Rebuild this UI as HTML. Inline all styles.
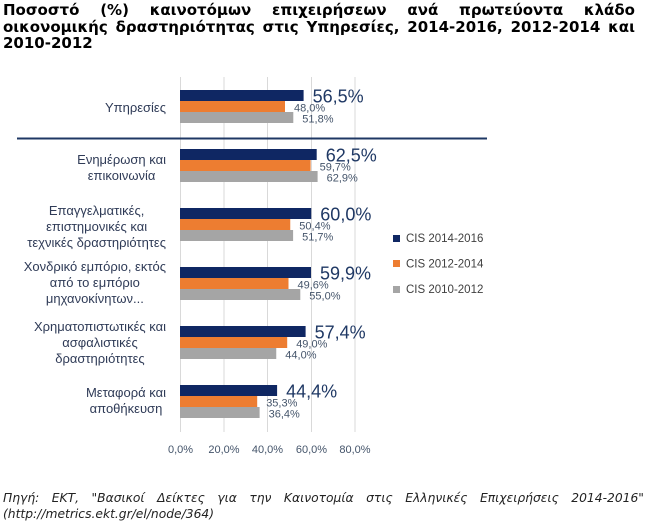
<!DOCTYPE html>
<html><head><meta charset="utf-8">
<style>
html,body{margin:0;padding:0;background:#fff;}
body{width:647px;height:529px;position:relative;overflow:hidden;}
.t{position:absolute;left:3px;width:632px;font-family:"DejaVu Sans","Liberation Sans",sans-serif;font-weight:bold;font-size:15px;color:#000;line-height:17px;white-space:nowrap;}
.j{display:flex;justify-content:space-between;}
.f{position:absolute;left:3px;width:641px;font-family:"DejaVu Sans","Liberation Sans",sans-serif;font-style:italic;font-size:12.3px;color:#222;line-height:15px;white-space:nowrap;}
.lab{position:absolute;right:481px;text-align:center;white-space:nowrap;font-family:"Liberation Sans","DejaVu Sans",sans-serif;font-size:13px;color:#2f3b57;line-height:16px;}
svg{position:absolute;left:0;top:0;}
</style></head><body>
<svg width="647" height="529" viewBox="0 0 647 529" xmlns="http://www.w3.org/2000/svg">
<g stroke="#d9d9d9" stroke-width="1">
<line x1="180.5" y1="77" x2="180.5" y2="432"/>
<line x1="224" y1="77" x2="224" y2="432"/>
<line x1="267.5" y1="77" x2="267.5" y2="432"/>
<line x1="311.5" y1="77" x2="311.5" y2="432"/>
<line x1="355" y1="77" x2="355" y2="432"/>
</g>
<line x1="17" y1="138.5" x2="487" y2="138.5" stroke="#1f3864" stroke-width="2"/>
<g>
<rect x="180" y="90" width="123.6" height="11" fill="#0f2763"/>
<rect x="180" y="101" width="105" height="11" fill="#ed7d31"/>
<rect x="180" y="112" width="113.3" height="11" fill="#a5a5a5"/>

<rect x="180" y="149" width="136.7" height="11" fill="#0f2763"/>
<rect x="180" y="160" width="130.6" height="11" fill="#ed7d31"/>
<rect x="180" y="171" width="137.6" height="11" fill="#a5a5a5"/>

<rect x="180" y="208" width="131.25" height="11" fill="#0f2763"/>
<rect x="180" y="219" width="110.25" height="11" fill="#ed7d31"/>
<rect x="180" y="230" width="113.1" height="11" fill="#a5a5a5"/>

<rect x="180" y="267" width="131" height="11" fill="#0f2763"/>
<rect x="180" y="278" width="108.5" height="11" fill="#ed7d31"/>
<rect x="180" y="289" width="120.3" height="11" fill="#a5a5a5"/>

<rect x="180" y="326" width="125.6" height="11" fill="#0f2763"/>
<rect x="180" y="337" width="107.2" height="11" fill="#ed7d31"/>
<rect x="180" y="348" width="96.25" height="11" fill="#a5a5a5"/>

<rect x="180" y="385" width="97.1" height="11" fill="#0f2763"/>
<rect x="180" y="396" width="77.2" height="11" fill="#ed7d31"/>
<rect x="180" y="407" width="79.6" height="11" fill="#a5a5a5"/>
</g>
<g font-family="Liberation Sans, DejaVu Sans, sans-serif" font-size="18" fill="#1f3864">
<text x="312.6" y="102.5">56,5%</text>
<text x="325.7" y="161.5">62,5%</text>
<text x="320.3" y="220.5">60,0%</text>
<text x="320" y="279.5">59,9%</text>
<text x="314.6" y="338.5">57,4%</text>
<text x="286.1" y="397.5">44,4%</text>
</g>
<g font-family="Liberation Sans, DejaVu Sans, sans-serif" font-size="11" fill="#44546a">
<text x="294" y="111.5">48,0%</text>
<text x="302.3" y="122.3">51,8%</text>
<text x="319.6" y="170.5">59,7%</text>
<text x="326.6" y="181.3">62,9%</text>
<text x="299.3" y="229.5">50,4%</text>
<text x="302.1" y="240.3">51,7%</text>
<text x="297.5" y="288.5">49,6%</text>
<text x="309.3" y="299.3">55,0%</text>
<text x="296.2" y="347.5">49,0%</text>
<text x="285.3" y="358.3">44,0%</text>
<text x="266.2" y="406.5">35,3%</text>
<text x="268.6" y="417.3">36,4%</text>
</g>
<g font-family="Liberation Sans, DejaVu Sans, sans-serif" font-size="11" fill="#44546a" text-anchor="middle">
<text x="180.5" y="453">0,0%</text>
<text x="224" y="453">20,0%</text>
<text x="267.5" y="453">40,0%</text>
<text x="311.5" y="453">60,0%</text>
<text x="355" y="453">80,0%</text>
</g>
<rect x="393" y="235" width="7" height="7" fill="#0f2763"/>
<rect x="393" y="260" width="7" height="7" fill="#ed7d31"/>
<rect x="393" y="286" width="7" height="7" fill="#a5a5a5"/>
<g font-family="Liberation Sans, DejaVu Sans, sans-serif" font-size="11.5" fill="#404040">
<text x="406" y="242">CIS 2014-2016</text>
<text x="406" y="267.5">CIS 2012-2014</text>
<text x="406" y="293">CIS 2010-2012</text>
</g>
</svg>

<div class="t j" style="top:2px;"><span>Ποσοστό</span><span>(%)</span><span>καινοτόμων</span><span>επιχειρήσεων</span><span>ανά</span><span>πρωτεύοντα</span><span>κλάδο</span></div>
<div class="t j" style="top:18.5px;"><span>οικονομικής</span><span>δραστηριότητας</span><span>στις</span><span>Υπηρεσίες,</span><span>2014-2016,</span><span>2012-2014</span><span>και</span></div>
<div class="t" style="top:35px;">2010-2012</div>

<div class="lab" style="top:100px;">Υπηρεσίες</div>
<div class="lab" style="top:152px;">Ενημέρωση και<br>επικοινωνία</div>
<div class="lab" style="top:202.5px;">Επαγγελματικές,<br>επιστημονικές και<br>τεχνικές δραστηριότητες</div>
<div class="lab" style="top:258.5px;">Χονδρικό εμπόριο, εκτός<br>από το εμπόριο<br>μηχανοκίνητων...</div>
<div class="lab" style="top:318.5px;">Χρηματοπιστωτικές και<br>ασφαλιστικές<br>δραστηριότητες</div>
<div class="lab" style="top:384.5px;">Μεταφορά και<br>αποθήκευση</div>

<div class="f j" style="top:491px;"><span>Πηγή:</span><span>ΕΚΤ,</span><span>"Βασικοί</span><span>Δείκτες</span><span>για</span><span>την</span><span>Καινοτομία</span><span>στις</span><span>Ελληνικές</span><span>Επιχειρήσεις</span><span>2014-2016"</span></div>
<div class="f" style="top:507px;">(http://metrics.ekt.gr/el/node/364)</div>
</body></html>
